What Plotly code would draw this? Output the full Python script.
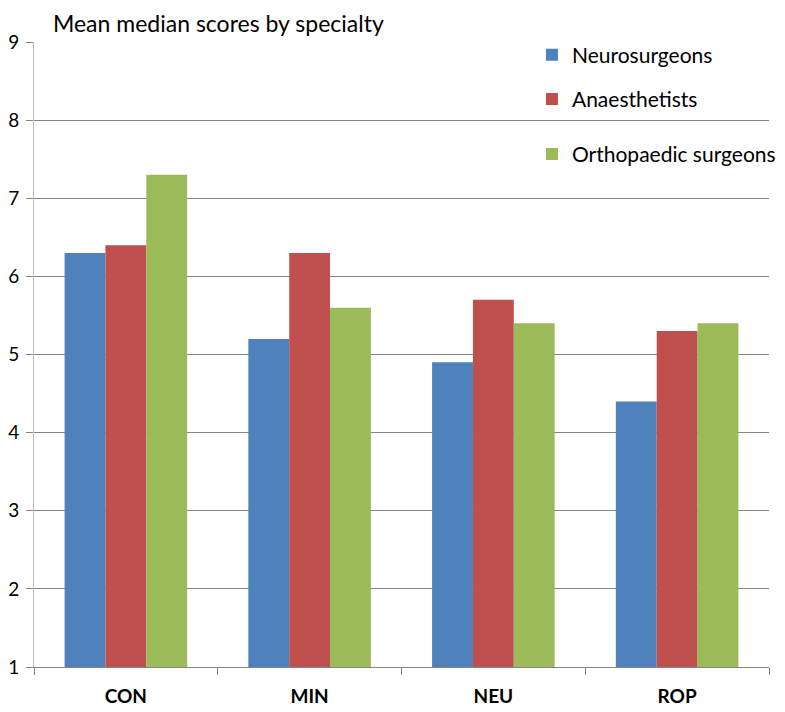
import plotly.graph_objects as go

categories = ["CON", "MIN", "NEU", "ROP"]
neurosurgeons = [6.3, 5.2, 4.9, 4.4]
anaesthetists = [6.4, 6.3, 5.7, 5.3]
orthopaedic = [7.3, 5.6, 5.4, 5.4]

FONT = "Lato, 'Open Sans', sans-serif"

fig = go.Figure()
fig.add_trace(go.Bar(x=categories, y=neurosurgeons, name="Neurosurgeons",
                     marker=dict(color="#4f81bd", line=dict(width=0)),
                     legendgroup="a"))
fig.add_trace(go.Bar(x=categories, y=anaesthetists, name="Anaesthetists",
                     marker=dict(color="#c0504d", line=dict(width=0)),
                     legendgroup="b"))
fig.add_trace(go.Bar(x=categories, y=orthopaedic, name="Orthopaedic surgeons",
                     marker=dict(color="#9bbb59", line=dict(width=0)),
                     legend="legend2"))

legend_style = dict(xanchor="left", yanchor="top", bgcolor="rgba(0,0,0,0)",
                    font=dict(family=FONT, size=21, color="#000"),
                    itemwidth=30)

# the page adds an 8px body margin, margins below account for it
fig.update_layout(
    width=785, height=712,
    margin=dict(l=26, r=21, t=34, b=53),
    paper_bgcolor="white", plot_bgcolor="white",
    barmode="group", bargap=0.333, bargroupgap=0,
    title=dict(text="Mean median scores by specialty", x=0.0573, xanchor="left",
               y=0.978, yanchor="middle",
               font=dict(family=FONT, size=23, color="#000")),
    showlegend=True,
    legend=dict(x=0.6775, y=1.012, traceorder="grouped", tracegroupgap=14,
                **legend_style),
    legend2=dict(x=0.6775, y=0.853, **legend_style),
    xaxis=dict(showline=True, linecolor="#868686", linewidth=1,
               ticks="outside", tickson="boundaries", ticklen=7, tickcolor="#868686",
               ticklabelstandoff=12, automargin=False,
               tickfont=dict(family=FONT, size=19, color="#000", weight="bold"),
               showgrid=False),
    yaxis=dict(range=[1, 9], dtick=1, showline=True, linecolor="#bfbfbf", linewidth=1,
               ticks="outside", ticklen=7, tickcolor="#868686",
               ticklabelstandoff=3, automargin=False,
               gridcolor="#868686", gridwidth=1, zeroline=False,
               tickfont=dict(family=FONT, size=19, color="#000")),
)

fig.write_html("out.html")
